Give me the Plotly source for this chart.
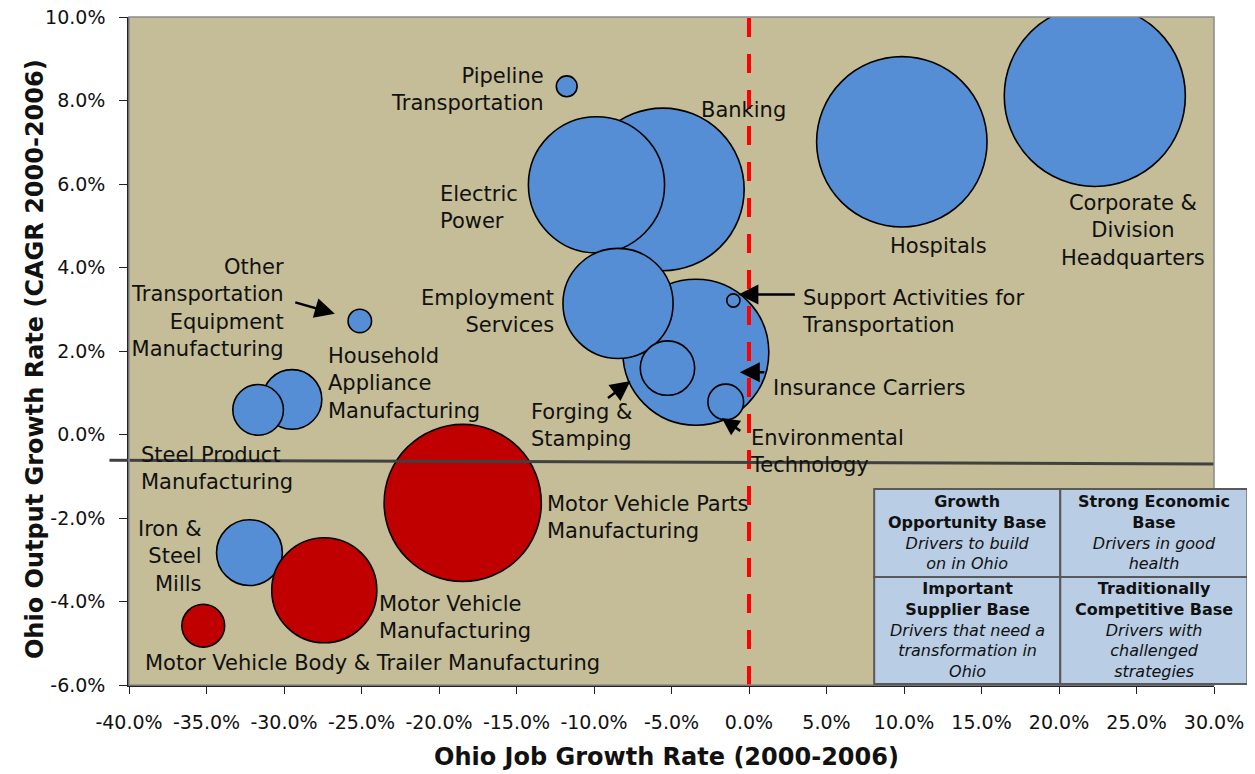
import plotly.graph_objects as go

# ---------------- data ----------------
industries = [
    "Banking", "Electric Power", "Insurance Carriers", "Employment Services",
    "Forging & Stamping", "Environmental Technology", "Support Activities for Transportation",
    "Pipeline Transportation", "Hospitals", "Corporate & Division Headquarters",
    "Other Transportation Equipment Manufacturing", "Household Appliance Manufacturing",
    "Steel Product Manufacturing", "Iron & Steel Mills", "Motor Vehicle Manufacturing",
    "Motor Vehicle Parts Manufacturing", "Motor Vehicle Body & Trailer Manufacturing",
]
job_growth = [-5.56, -9.84, -3.43, -8.45, -5.26, -1.50, -1.01, -11.76, 9.86, 22.31,
              -25.11, -29.48, -31.67, -32.23, -27.40, -18.47, -35.21]
output_growth = [5.87, 5.98, 1.97, 3.14, 1.59, 0.78, 3.21, 8.34, 7.01, 8.11,
                 2.72, 0.84, 0.59, -2.83, -3.73, -1.64, -4.58]
employment = [63.5, 44.5, 51.1, 29.1, 7.1, 3.06, 0.42, 1.04, 69.7, 78.7,
              1.32, 8.5, 6.15, 10.4, 26.5, 59.3, 4.4]
is_auto = [False, False, False, False, False, False, False, False, False, False,
           False, False, False, False, True, True, True]
labels = [
    "Banking", "Electric<br>Power", "Insurance Carriers", "Employment<br>Services",
    "Forging &<br>Stamping", "Environmental<br>Technology", "Support Activities for<br>Transportation",
    "Pipeline<br>Transportation", "Hospitals", "Corporate &<br>Division<br>Headquarters",
    "Other<br>Transportation<br>Equipment<br>Manufacturing", "Household<br>Appliance<br>Manufacturing",
    "Steel Product<br>Manufacturing", "Iron &<br>Steel<br>Mills", "Motor Vehicle<br>Manufacturing",
    "Motor Vehicle Parts<br>Manufacturing", "Motor Vehicle Body & Trailer Manufacturing",
]
x_ticks = [-40, -35, -30, -25, -20, -15, -10, -5, 0, 5, 10, 15, 20, 25, 30]
y_ticks = [-6, -4, -2, 0, 2, 4, 6, 8, 10]
threshold_y = [-0.614, -0.705]   # "average" line, left/right ends
x_title = "Ohio Job Growth Rate (2000-2006)"
y_title = "Ohio Output Growth Rate (CAGR 2000-2006)"
quadrant_titles = [["Growth", "Opportunity Base"], ["Strong Economic", "Base"],
                   ["Important", "Supplier Base"], ["Traditionally", "Competitive Base"]]
quadrant_notes = [["Drivers to build", "on in Ohio"], ["Drivers in good", "health"],
                  ["Drivers that need a", "transformation in", "Ohio"],
                  ["Drivers with", "challenged", "strategies"]]

# ---------------- style ----------------
BLUE = "#558ED5"
RED = "#C00000"
BG = "#C4BD97"
FONT = "Tahoma, DejaVu Sans, sans-serif"

# label placement (pixel offsets from bubble centre): xshift, yshift, xanchor
label_pos = [
    (81, 79, "center"), (-158, -23, "left"), (75, -36, "left"), (-62, -8, "right"),
    (-138, -57, "left"), (22, -50, "left"), (67, -11, "left"),
    (-21, -3, "right"), (37, -104, "center"), (38, -135, "center"),
    (-74, 13, "right"), (34, 16, "left"), (-119, -59, "left"), (-45, -4, "right"),
    (53, -27, "left"), (82, -15, "left"), (-60, -37, "left"),
]
# arrows: index of bubble, head shift (x, y px), tail offset ax, ay (px), standoff, head size
arrows = [
    (10, 0, 0, -66, -19, 26, 1.6),
    (6, 5, 6, 58, 0, 0, 1.6),
    (2, 44, -20, 26, 0, 0, 1.6),
    (4, -37, -13, -24, 18, 0, 1.6),
    (5, -4, -16, 20, 14, 0, 1.4),
]

fig = go.Figure()
fig.add_trace(go.Scatter(
    x=job_growth, y=output_growth, mode="markers",
    text=industries, hoverinfo="text",
    marker=dict(size=employment, sizemode="area", sizeref=0.0048,
                color=[RED if a else BLUE for a in is_auto],
                line=dict(color="black", width=1.6), opacity=1),
    showlegend=False,
))

# red dashed vertical line at zero job growth
fig.add_shape(type="line", xref="x", yref="paper", x0=0, x1=0, y0=0, y1=1,
              line=dict(color="#FF0000", width=4, dash="19px,17px"), layer="above")
# grey horizontal line
fig.add_shape(type="line", xref="paper", yref="y", x0=-0.018, x1=1,
              y0=threshold_y[0], y1=threshold_y[1],
              line=dict(color="#404040", width=3), layer="above")
# plot border (top/right grey)
fig.add_shape(type="rect", xref="paper", yref="paper", x0=0, x1=1, y0=0, y1=1,
              line=dict(color="#8C8C8C", width=1.5), layer="above")

annotations = []
for i, lab in enumerate(labels):
    xs, ys, xa = label_pos[i]
    annotations.append(dict(
        x=job_growth[i], y=output_growth[i], xref="x", yref="y", text=lab,
        showarrow=False, xshift=xs, yshift=ys, xanchor=xa, yanchor="middle",
        align=xa if xa != "center" else "center",
        font=dict(family=FONT, size=21, color="#111111"),
    ))
for idx, hx, hy, ax, ay, so, hs in arrows:
    annotations.append(dict(
        x=job_growth[idx], y=output_growth[idx], xref="x", yref="y", text="",
        showarrow=True, arrowhead=2, arrowsize=hs, arrowwidth=2.5, arrowcolor="black",
        ax=ax, ay=ay, axref="pixel", ayref="pixel", xshift=hx, yshift=hy, standoff=so,
    ))

# axis titles
annotations.append(dict(x=0.495, y=-0.1078, xref="paper", yref="paper",
                        text="<b>%s</b>" % x_title, showarrow=False,
                        xanchor="center", yanchor="middle",
                        font=dict(family=FONT, size=24, color="#111111")))
annotations.append(dict(x=-0.0866, y=0.488, xref="paper", yref="paper",
                        text="<b>%s</b>" % y_title, showarrow=False, textangle=-90,
                        xanchor="center", yanchor="middle",
                        font=dict(family=FONT, size=24, color="#111111")))

# quadrant legend table
tx0, tx1, txm = 0.6868, 1.0308, 0.8583
ty0, ty1, tym = 0.0015, 0.2936, 0.1618
cells = [(tx0, txm, tym, ty1), (txm, tx1, tym, ty1), (tx0, txm, ty0, tym), (txm, tx1, ty0, tym)]
for k, (a, b, c, d) in enumerate(cells):
    fig.add_shape(type="rect", xref="paper", yref="paper", x0=a, x1=b, y0=c, y1=d,
                  fillcolor="#B9CDE5", line=dict(color="#595959", width=2), layer="above")
    txt = "<br>".join(["<b>%s</b>" % t for t in quadrant_titles[k]] +
                      ["<i>%s</i>" % t for t in quadrant_notes[k]])
    annotations.append(dict(
        x=(a + b) / 2, y=(c + d) / 2, xref="paper", yref="paper", text=txt,
        showarrow=False, xanchor="center", yanchor="middle", align="center",
        font=dict(family=FONT, size=16, color="#111111"),
    ))

fig.update_layout(
    width=1247, height=772,
    margin=dict(l=129, r=33, t=17, b=87, autoexpand=False),
    paper_bgcolor="white", plot_bgcolor=BG,
    font=dict(family=FONT, color="#111111"),
    annotations=annotations,
    xaxis=dict(range=[-40, 30], tickvals=x_ticks, automargin=False,
               ticktext=["%.1f%%" % v for v in x_ticks], ticklabeloverflow="allow",
               showgrid=False, zeroline=False, showline=True, linecolor="#222222", linewidth=1.5,
               ticks="outside", ticklen=7, tickcolor="#222222", tickwidth=1.2,
               tickfont=dict(family=FONT, size=19, color="#111111"),
               ticklabelstandoff=12),
    yaxis=dict(range=[-6, 10], tickvals=y_ticks, automargin=False,
               ticktext=["%.1f%%" % v for v in y_ticks], ticklabeloverflow="allow",
               showgrid=False, zeroline=False, showline=True, linecolor="#222222", linewidth=1.5,
               ticks="outside", ticklen=8, tickcolor="#222222", tickwidth=1.2,
               tickfont=dict(family=FONT, size=19, color="#111111"),
               ticklabelstandoff=10),
)

fig.write_html("out.html", config={"displayModeBar": False},
               post_script="document.body.style.margin='0px';")
